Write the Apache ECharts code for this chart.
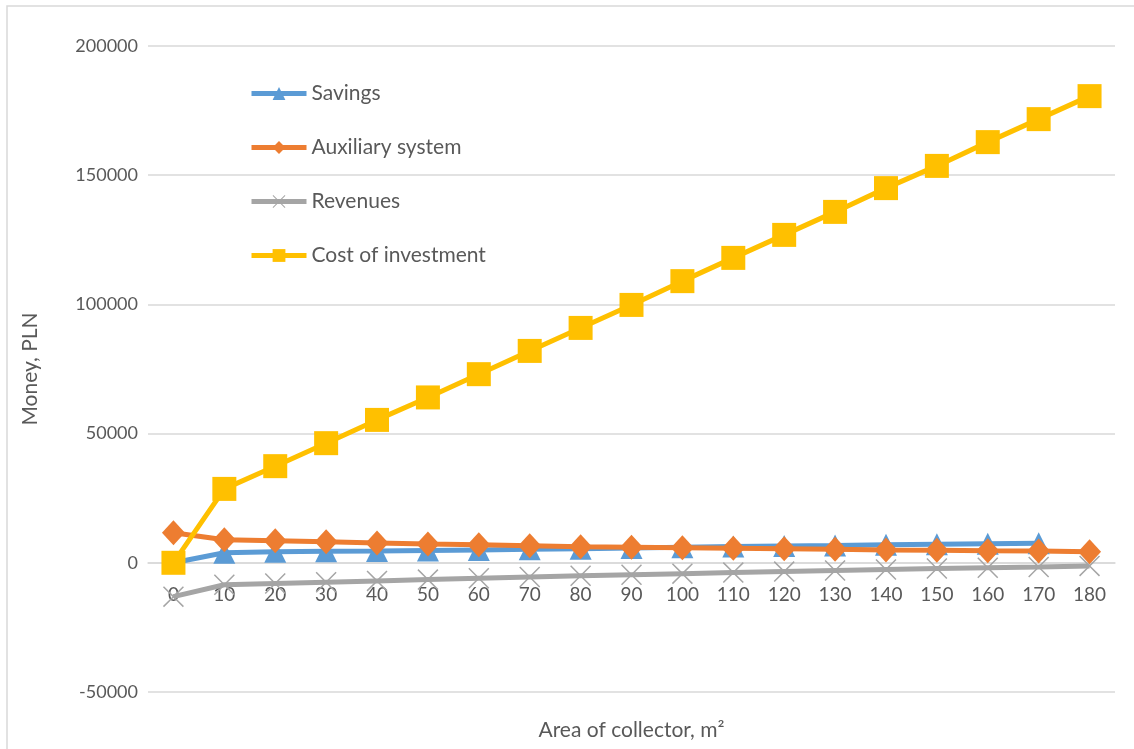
<!DOCTYPE html>
<html>
<head>
<meta charset="utf-8">
<script src="https://cdn.jsdelivr.net/npm/echarts@6/dist/echarts.min.js"></script>
<style>
  html, body { margin: 0; padding: 0; background: #fff; }
  #chart { width: 1134px; height: 749px; }
</style>
</head>
<body>
<div id="chart"></div>
<script>
const areas = ['0', '10', '20', '30', '40', '50', '60', '70', '80', '90', '100', '110', '120', '130', '140', '150', '160', '170', '180']

const savings = [0, 3900, 4300, 4500, 4600, 4800, 5000, 5200, 5400, 5700, 6000, 6300, 6500, 6700, 7000, 7200, 7400, 7600, null]
const auxiliary = [11600, 8900, 8500, 8100, 7700, 7300, 7000, 6600, 6200, 6000, 5800, 5600, 5400, 5200, 5000, 4900, 4700, 4600, 4300]
const revenues = [-13100, -8500, -8000, -7500, -7000, -6500, -6000, -5500, -5000, -4600, -4200, -3800, -3400, -3000, -2600, -2200, -1900, -1600, -1200]
const investment = [0, 28600, 37400, 46300, 55300, 64000, 73000, 82000, 90900, 99800, 109000, 118000, 126900, 135800, 145000, 153600, 162800, 171700, 180600]

const yTicks = { min: -50000, max: 200000, interval: 50000 }

const textColor = '#595959'
const gridColor = '#d9d9d9'
const font = 'Lato'

// Excel style "x" marker
const crossPath = 'path://M0,1 L1,0 L10,9 L19,0 L20,1 L11,10 L20,19 L19,20 L10,11 L1,20 L0,19 L9,10 Z'

const chart = echarts.init(document.getElementById('chart'))

function lineSeries(name, data, color, symbol, size) {
  return {
    name: name,
    type: 'line',
    data: data,
    symbol: symbol,
    symbolSize: size,
    showAllSymbol: true,
    connectNulls: false,
    lineStyle: { color: color, width: 5 },
    itemStyle: { color: color },
    emphasis: { disabled: true },
    animation: false
  }
}

// the category axis sits on the zero line, like in Excel
const zeroOffset = -(0 - yTicks.min) / (yTicks.max - yTicks.min) * (749 - 46 - 57)

chart.setOption({
  textStyle: { fontFamily: font },
  graphic: [{
    type: 'rect',
    shape: { x: 7, y: 6, width: 1140, height: 760 },
    style: { fill: 'none', stroke: gridColor, lineWidth: 1.5 },
    silent: true
  }],
  legend: {
    orient: 'vertical',
    left: 249,
    top: 83,
    padding: 0,
    itemWidth: 55,
    itemHeight: 16,
    itemGap: 33,
    lineStyle: { width: 5 },
    textStyle: { color: textColor, fontSize: 21, fontFamily: font },
    data: ['Savings', 'Auxiliary system', 'Revenues', 'Cost of investment']
  },
  grid: { left: 148, right: 19, top: 46, bottom: 57, outerBoundsMode: 'none' },
  xAxis: {
    type: 'category',
    data: areas,
    boundaryGap: true,
    offset: zeroOffset,
    name: 'Area of collector, m²',
    nameLocation: 'middle',
    nameGap: 157,
    nameTextStyle: { color: textColor, fontSize: 21, fontFamily: font },
    axisLine: { onZero: false, lineStyle: { color: gridColor, width: 1.5 } },
    axisTick: { show: false },
    axisLabel: { color: textColor, fontSize: 19, margin: 23, interval: 0 }
  },
  yAxis: {
    type: 'value',
    min: yTicks.min,
    max: yTicks.max,
    interval: yTicks.interval,
    name: 'Money, PLN',
    nameLocation: 'middle',
    nameGap: 107,
    nameTextStyle: { color: textColor, fontSize: 21, fontFamily: font },
    axisLine: { show: false },
    axisTick: { show: false },
    axisLabel: { color: textColor, fontSize: 18, margin: 10, formatter: v => String(v) },
    splitLine: { lineStyle: { color: gridColor, width: 1.5 } }
  },
  series: [
    lineSeries('Savings', savings, '#5b9bd5', 'triangle', 22),
    lineSeries('Auxiliary system', auxiliary, '#ed7d31', 'diamond', [23, 25]),
    lineSeries('Revenues', revenues, '#a5a5a5', crossPath, 21),
    lineSeries('Cost of investment', investment, '#ffc000', 'rect', 24)
  ]
})
</script>
</body>
</html>
